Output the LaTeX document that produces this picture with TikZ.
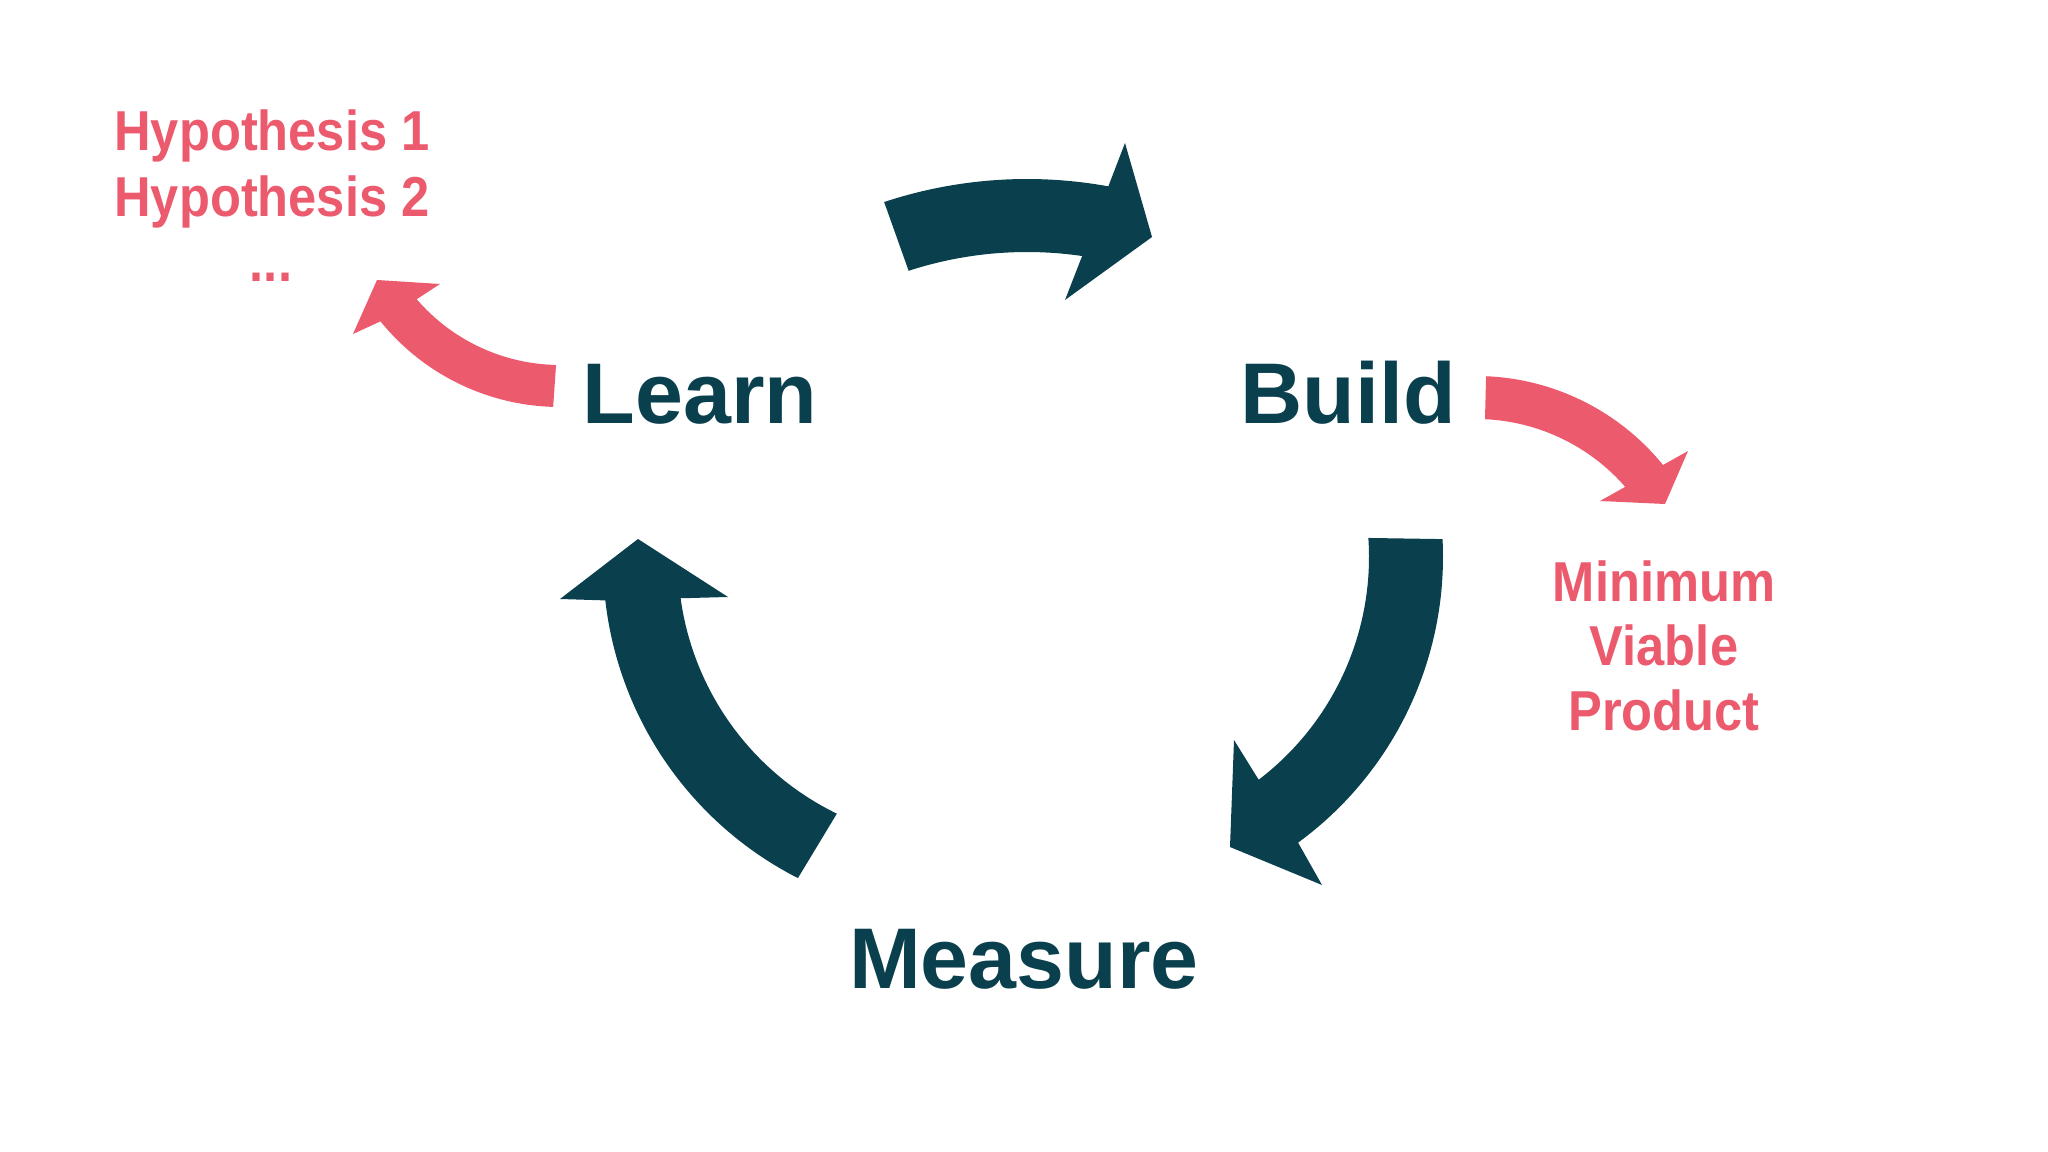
\documentclass[tikz,border=0pt]{standalone}
\usepackage{fontspec}
\setmainfont{Liberation Sans}
\newfontfamily\notefont[FakeStretch=0.9]{Liberation Sans}
\definecolor{stepteal}{HTML}{0A404D}
\definecolor{notered}{HTML}{EC5A6E}

\begin{document}
\begin{tikzpicture}[x=0.01cm,y=-0.01cm,
  stage/.style={text=stepteal,inner sep=0pt,anchor=base,font=\bfseries\fontsize{24.5}{29}\selectfont},
  note/.style={text=notered,inner sep=0pt,anchor=base,font=\notefont\bfseries\fontsize{16}{19}\selectfont},
  cyclearrow/.style={fill=stepteal},
  sidearrow/.style={fill=notered}]
  \useasboundingbox (0,0) rectangle (2048,1152);
  % stages
  \node[stage] (learn) at (700,424){Learn};
  \node[stage] (build) at (1348,424){Build};
  \node[stage] (measure) at (1024,988){Measure};
  % learn -> build
  \fill[cyclearrow] ([shift={(1027,634)}]-108.3:455) arc[start angle=-108.3,end angle=-79.7,radius=455]
    -- (1125,143) -- (1152,237) -- (1065,300)
    -- ([shift={(1027,634)}]-81.7:382) arc[start angle=-81.7,end angle=-108.05,radius=382] -- cycle;
  % build -> measure
  \fill[cyclearrow] ([shift={(1089,557)}]-2.9:354) arc[start angle=-2.9,end angle=53.8,radius=354]
    -- (1322,885) -- (1230,847) -- (1234,740)
    -- ([shift={(1089,557)}]52.7:280) arc[start angle=52.7,end angle=-3.9,radius=280] -- cycle;
  % measure -> learn
  \fill[cyclearrow] ([shift={(960,560)}]117:357) arc[start angle=117,end angle=173.5,radius=357]
    -- (560,599) -- (638,539) -- (728,597)
    -- ([shift={(960,560)}]172.2:282) arc[start angle=172.2,end angle=115.9,radius=282] -- cycle;
  % learn -> hypotheses
  \fill[sidearrow] ([shift={(560,176)}]91.7:231) arc[start angle=91.7,end angle=141,radius=231]
    -- (353,334) -- (377,280) -- (440,284)
    -- ([shift={(560,176)}]139.3:189) arc[start angle=139.3,end angle=91.2,radius=189] -- cycle;
  % build -> mvp
  \fill[sidearrow] ([shift={(1476,617)}]-87.6:241) arc[start angle=-87.6,end angle=-39.1,radius=241]
    -- (1688,451) -- (1665,504) -- (1600,501)
    -- ([shift={(1476,617)}]-41.1:198) arc[start angle=-41.1,end angle=-87.4,radius=198] -- cycle;
  % notes
  \node[note] (hyp1) at (272,151){Hypothesis 1};
  \node[note] (hyp2) at (272,217){Hypothesis 2};
  \node[note] (hypdots) at (271,282){...};
  \node[note] (mvp1) at (1664,601){Minimum};
  \node[note] (mvp2) at (1664,666){Viable};
  \node[note] (mvp3) at (1664,730){Product};
\end{tikzpicture}
\end{document}
